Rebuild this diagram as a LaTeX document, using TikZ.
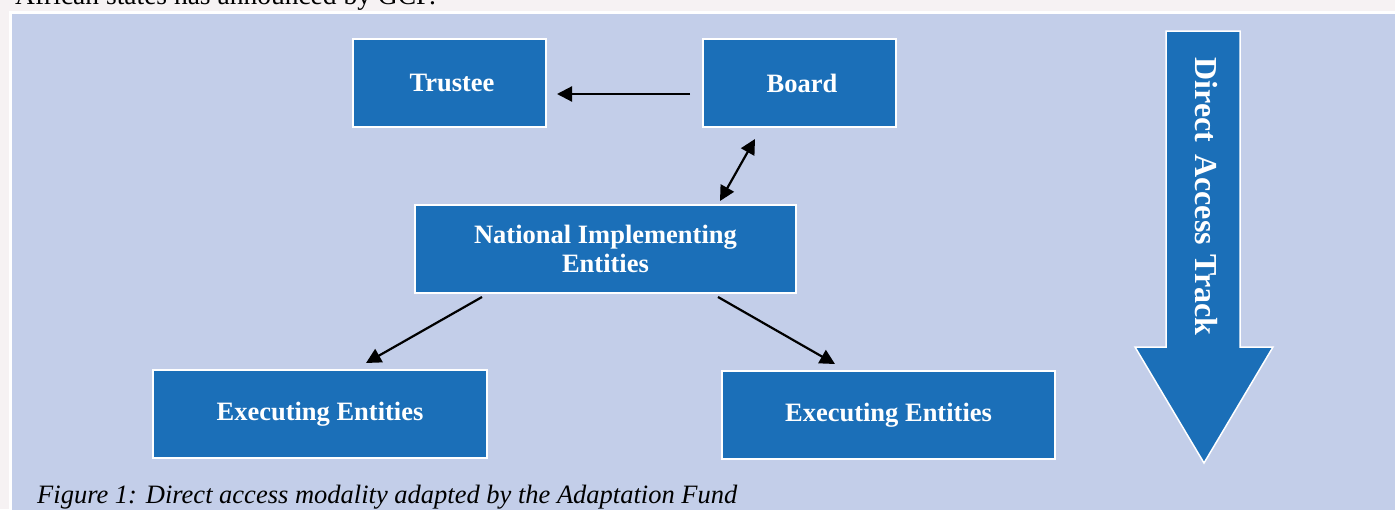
\documentclass[tikz,border=0pt]{standalone}
\usepackage{fontspec}
\setmainfont{Liberation Serif}
\usetikzlibrary{arrows.meta}
\definecolor{pagebg}{HTML}{F6F2F3}
\definecolor{panelbg}{HTML}{C3CEE9}
\definecolor{boxblue}{HTML}{1B6FB8}
\tikzset{
  entity/.style={draw=white, line width=2pt, fill=boxblue, text=white,
    font=\fontsize{26.5}{29}\selectfont\bfseries, align=center, inner sep=0pt},
  tip/.style={Triangle[length=15pt,width=15pt]},
  flow/.style={line width=2.2pt, -{Triangle[length=15pt,width=15pt]}},
  flowboth/.style={line width=2.2pt, {Triangle[length=15pt,width=15pt]}-{Triangle[length=15pt,width=15pt]}}
}
\begin{document}
\begin{tikzpicture}[x=1pt,y=-1pt]
\useasboundingbox (0,0) rectangle (1395,509);
\begin{scope}
\clip (0,0) rectangle (1395,509);
% page and shaded panel
\fill[pagebg] (0,0) rectangle (1395,509);
\fill[white] (9,11) rectangle (1400,515);
\fill[panelbg] (12,14) rectangle (1400,515);
% last line of the preceding paragraph, cut by the page edge
\node[anchor=base west, inner sep=0pt, font=\fontsize{27.5}{30}\selectfont] (prev) at (15,4) {African states has announced by GCF.};

% entity boxes
\node[entity, minimum width=193pt, minimum height=88pt] (trustee) at (449,83) {\hspace{6pt}Trustee};
\node[entity, minimum width=193pt, minimum height=88pt] (board) at (799,83) {\hspace{6pt}Board};
\node[entity, minimum width=381pt, minimum height=88pt] (nie) at (605.5,249) {National Implementing\\Entities};
\node[entity, minimum width=334pt, minimum height=88pt] (execl) at (320,414) {Executing Entities};
\node[entity, minimum width=333pt, minimum height=88pt] (execr) at (888.5,415) {Executing Entities};

% connectors
\coordinate (bl) at (690,94);
\coordinate (tr) at (557,94);
\draw[flow] (bl) -- (tr);
\coordinate (bu) at (755,139);
\coordinate (nu) at (720,201);
\draw[flowboth] (nu) -- (bu);
\coordinate (nl) at (482,297);
\coordinate (el) at (366,363);
\draw[flow] (nl) -- (el);
\coordinate (nr) at (718,297);
\coordinate (er) at (835,364);
\draw[flow] (nr) -- (er);

% direct access track arrow
\draw[white, line width=1.5pt, fill=boxblue, line join=miter]
  (1166,31) -- (1240,31) -- (1240,347) -- (1273,347) -- (1204,463)
  -- (1135,347) -- (1166,347) -- cycle;
\node[rotate=-90, text=white, font=\fontsize{32}{35}\selectfont\bfseries, inner sep=0pt]
  (track) at (1206,196.5) {Direct\hspace{4pt} Access\hspace{1pt} Track};

% caption
\node[anchor=base west, inner sep=0pt, font=\fontsize{26.5}{28}\selectfont\itshape] (cap) at (37,503)
  {Figure 1: Direct access modality adapted by the Adaptation Fund};
\end{scope}
\end{tikzpicture}
\end{document}
